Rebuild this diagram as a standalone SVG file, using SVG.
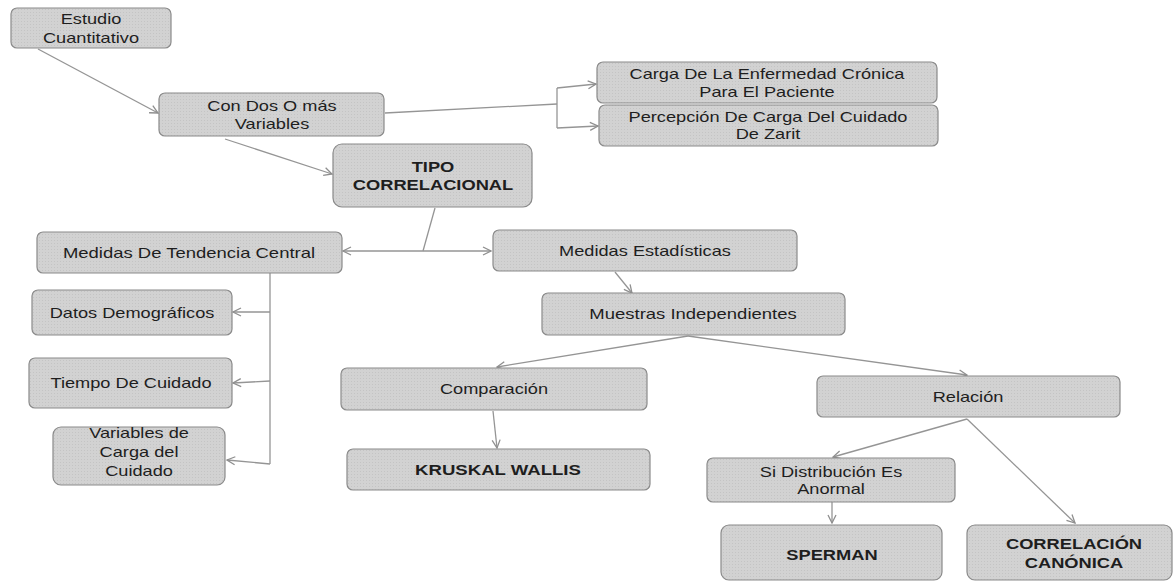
<svg xmlns="http://www.w3.org/2000/svg" width="1175" height="582" viewBox="0 0 1175 582">
<defs>
<marker id="arr" viewBox="0 0 10 10" refX="9" refY="5" markerWidth="10" markerHeight="10" markerUnits="userSpaceOnUse" orient="auto-start-reverse">
<path d="M1,1 L9,5 L1,9" fill="none" stroke="#8f8f8f" stroke-width="1.3"/>
</marker>
<pattern id="dots" width="3" height="3" patternUnits="userSpaceOnUse">
<rect width="3" height="3" fill="#d2d2d2"/>
<rect width="1" height="1" fill="#c4c4c4"/>
</pattern>
</defs>
<style>
.box{fill:url(#dots);stroke:#8a8a8a;stroke-width:1.2}
.t{font-family:"Liberation Sans",Arial,sans-serif;font-size:14px;fill:#1e1e1e;text-anchor:middle}
.b{font-family:"Liberation Sans",Arial,sans-serif;font-size:15px;font-weight:bold;fill:#1e1e1e;text-anchor:middle}
.c{fill:none;stroke:#959595;stroke-width:1.3}
.a{marker-end:url(#arr)}
</style>
<rect width="1175" height="582" fill="#ffffff"/>
<g id="connectors">
<line class="c a" x1="38" y1="49" x2="158" y2="113"/>
<line class="c a" x1="225" y1="139" x2="332" y2="174"/>
<polyline class="c" points="385,113 557,104"/>
<line class="c" x1="557" y1="88" x2="557" y2="128"/>
<line class="c a" x1="557" y1="88" x2="596" y2="84"/>
<line class="c a" x1="557" y1="128" x2="598" y2="126"/>
<line class="c" x1="435" y1="208" x2="423" y2="251"/>
<line class="c a" x1="343" y1="251" x2="491" y2="251" style="marker-start:url(#arr)"/>
<line class="c" x1="270" y1="273" x2="270" y2="464"/>
<line class="c a" x1="270" y1="312" x2="233" y2="312"/>
<line class="c a" x1="270" y1="381" x2="233" y2="383"/>
<line class="c a" x1="270" y1="464" x2="227" y2="460"/>
<line class="c a" x1="615" y1="272" x2="632" y2="293"/>
<line class="c a" x1="688" y1="336" x2="497" y2="367"/>
<line class="c a" x1="688" y1="336" x2="967" y2="375"/>
<line class="c a" x1="493" y1="411" x2="497" y2="448"/>
<line class="c a" x1="967" y1="419" x2="833" y2="457"/>
<line class="c a" x1="967" y1="419" x2="1075" y2="523"/>
<line class="c a" x1="832" y1="502" x2="832" y2="523"/>
</g>
<g id="n-estudio">
<rect class="box" x="11" y="8" width="160" height="40" rx="6"/>
<text class="t" transform="translate(91,24) scale(1.3,1)">Estudio</text>
<text class="t" transform="translate(91,43) scale(1.3,1)">Cuantitativo</text>
</g>
<g id="n-condos">
<rect class="box" x="159" y="93" width="225" height="43" rx="6"/>
<text class="t" transform="translate(272,111) scale(1.3,1)">Con Dos O más</text>
<text class="t" transform="translate(272,129) scale(1.3,1)">Variables</text>
</g>
<g id="n-tipo">
<rect class="box" x="333" y="144" width="199" height="63" rx="9"/>
<text class="b" transform="translate(433,172) scale(1.22,1)">TIPO</text>
<text class="b" transform="translate(433,190) scale(1.22,1)">CORRELACIONAL</text>
</g>
<g id="n-carga">
<rect class="box" x="597" y="62" width="340" height="41" rx="6"/>
<text class="t" transform="translate(767,79) scale(1.3,1)">Carga De La Enfermedad Crónica</text>
<text class="t" transform="translate(767,97) scale(1.3,1)">Para El Paciente</text>
</g>
<g id="n-percepcion">
<rect class="box" x="599" y="105" width="339" height="41" rx="6"/>
<text class="t" transform="translate(768,122) scale(1.3,1)">Percepción De Carga Del Cuidado</text>
<text class="t" transform="translate(768,139) scale(1.3,1)">De Zarit</text>
</g>
<g id="n-tendencia">
<rect class="box" x="37" y="232" width="305" height="41" rx="6"/>
<text class="t" transform="translate(189,258) scale(1.32,1)">Medidas De Tendencia Central</text>
</g>
<g id="n-datos">
<rect class="box" x="32" y="290" width="200" height="45" rx="6"/>
<text class="t" transform="translate(132,318) scale(1.3,1)">Datos Demográficos</text>
</g>
<g id="n-tiempo">
<rect class="box" x="29" y="358" width="203" height="50" rx="6"/>
<text class="t" transform="translate(131,388) scale(1.3,1)">Tiempo De Cuidado</text>
</g>
<g id="n-variables">
<rect class="box" x="53" y="427" width="172" height="58" rx="8"/>
<text class="t" transform="translate(139,438) scale(1.3,1)">Variables de</text>
<text class="t" transform="translate(139,457) scale(1.3,1)">Carga del</text>
<text class="t" transform="translate(139,476) scale(1.3,1)">Cuidado</text>
</g>
<g id="n-estadisticas">
<rect class="box" x="493" y="230" width="304" height="41" rx="6"/>
<text class="t" transform="translate(645,256) scale(1.3,1)">Medidas Estadísticas</text>
</g>
<g id="n-muestras">
<rect class="box" x="542" y="293" width="303" height="42" rx="6"/>
<text class="t" transform="translate(693,319) scale(1.32,1)">Muestras Independientes</text>
</g>
<g id="n-comparacion">
<rect class="box" x="341" y="368" width="306" height="42" rx="6"/>
<text class="t" transform="translate(494,394) scale(1.3,1)">Comparación</text>
</g>
<g id="n-kruskal">
<rect class="box" x="347" y="449" width="303" height="41" rx="6"/>
<text class="b" transform="translate(498,475) scale(1.24,1)">KRUSKAL WALLIS</text>
</g>
<g id="n-relacion">
<rect class="box" x="817" y="376" width="303" height="41" rx="6"/>
<text class="t" transform="translate(968,402) scale(1.3,1)">Relación</text>
</g>
<g id="n-sidist">
<rect class="box" x="707" y="458" width="248" height="44" rx="6"/>
<text class="t" transform="translate(831,477) scale(1.3,1)">Si Distribución Es</text>
<text class="t" transform="translate(831,494) scale(1.3,1)">Anormal</text>
</g>
<g id="n-sperman">
<rect class="box" x="721" y="525" width="221" height="55" rx="8"/>
<text class="b" transform="translate(832,560) scale(1.22,1)">SPERMAN</text>
</g>
<g id="n-canonica">
<rect class="box" x="967" y="525" width="205" height="55" rx="8"/>
<text class="b" transform="translate(1074,549) scale(1.22,1)">CORRELACIÓN</text>
<text class="b" transform="translate(1074,568) scale(1.22,1)">CANÓNICA</text>
</g>
</svg>
